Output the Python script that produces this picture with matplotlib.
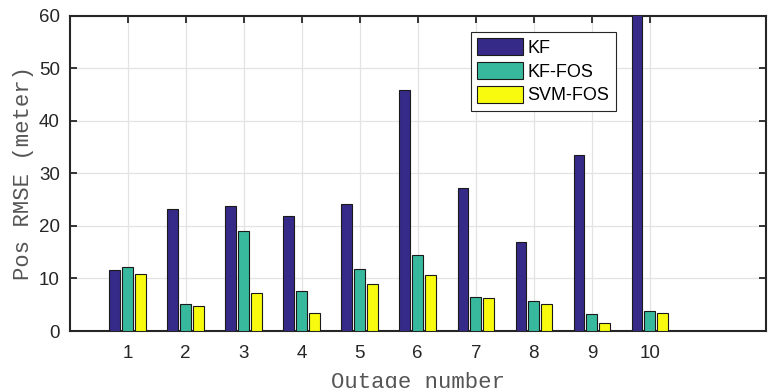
import matplotlib
matplotlib.use("Agg")
import matplotlib.pyplot as plt
import numpy as np

outages = [1, 2, 3, 4, 5, 6, 7, 8, 9, 10]
kf = [11.6, 23.2, 23.9, 21.9, 24.1, 45.9, 27.3, 16.9, 33.5, 62.0]
kf_fos = [12.1, 5.1, 19.0, 7.7, 11.8, 14.4, 6.5, 5.8, 3.2, 3.9]
svm_fos = [10.9, 4.8, 7.3, 3.5, 9.0, 10.6, 6.2, 5.1, 1.5, 3.4]
series_names = ["KF", "KF-FOS", "SVM-FOS"]
colors = ["#352a87", "#38b99e", "#f9fb0e"]

fig = plt.figure(figsize=(7.69, 3.88), dpi=100)
ax = fig.add_axes([0.0904, 0.1469, 0.9056, 0.8119])

x = np.array(outages, dtype=float)
offset = 0.222
width = 0.185
for i, (vals, name, c) in enumerate(zip([kf, kf_fos, svm_fos], series_names, colors)):
    ax.bar(x + (i - 1) * offset, vals, width=width, color=c, edgecolor="#1a1a1a",
           linewidth=0.8, label=name, zorder=3)

ax.set_xlim(0, 12)
ax.set_ylim(0, 60)
ax.set_xticks(outages)
ax.set_yticks(range(0, 61, 10))
ax.tick_params(direction="in", length=5, width=1.3, top=True, right=True,
               labelsize=13.5, colors="#262626")
ax.tick_params(axis="x", pad=10)
ax.tick_params(axis="y", pad=7)
for lab in ax.get_xticklabels() + ax.get_yticklabels():
    lab.set_family("Liberation Sans")
    lab.set_color("#262626")
for s in ax.spines.values():
    s.set_linewidth(1.5)
    s.set_color("#262626")
ax.grid(True, color="#e3e3e3", linewidth=0.9, zorder=0)
ax.set_axisbelow(True)

ax.set_ylabel("Pos RMSE (meter)", family="Liberation Mono", fontsize=16,
              color="#555555")
ax.set_xlabel("Outage number", family="Liberation Mono", fontsize=16,
              color="#555555")
ax.yaxis.set_label_coords(-0.051, 0.5)
ax.xaxis.set_label_coords(0.5, -0.13)

leg = ax.legend(loc="upper left", bbox_to_anchor=(470.7 / 769, 1 - 31.7 / 388),
                bbox_transform=fig.transFigure, borderaxespad=0, fancybox=False,
                framealpha=1, edgecolor="#262626", handlelength=2.55, handleheight=1.05,
                handletextpad=0.25, labelspacing=0.3, borderpad=0.35,
                prop={"family": "Liberation Sans", "size": 13})
leg.get_frame().set_linewidth(0.8)

fig.savefig("out.png", dpi=100)
